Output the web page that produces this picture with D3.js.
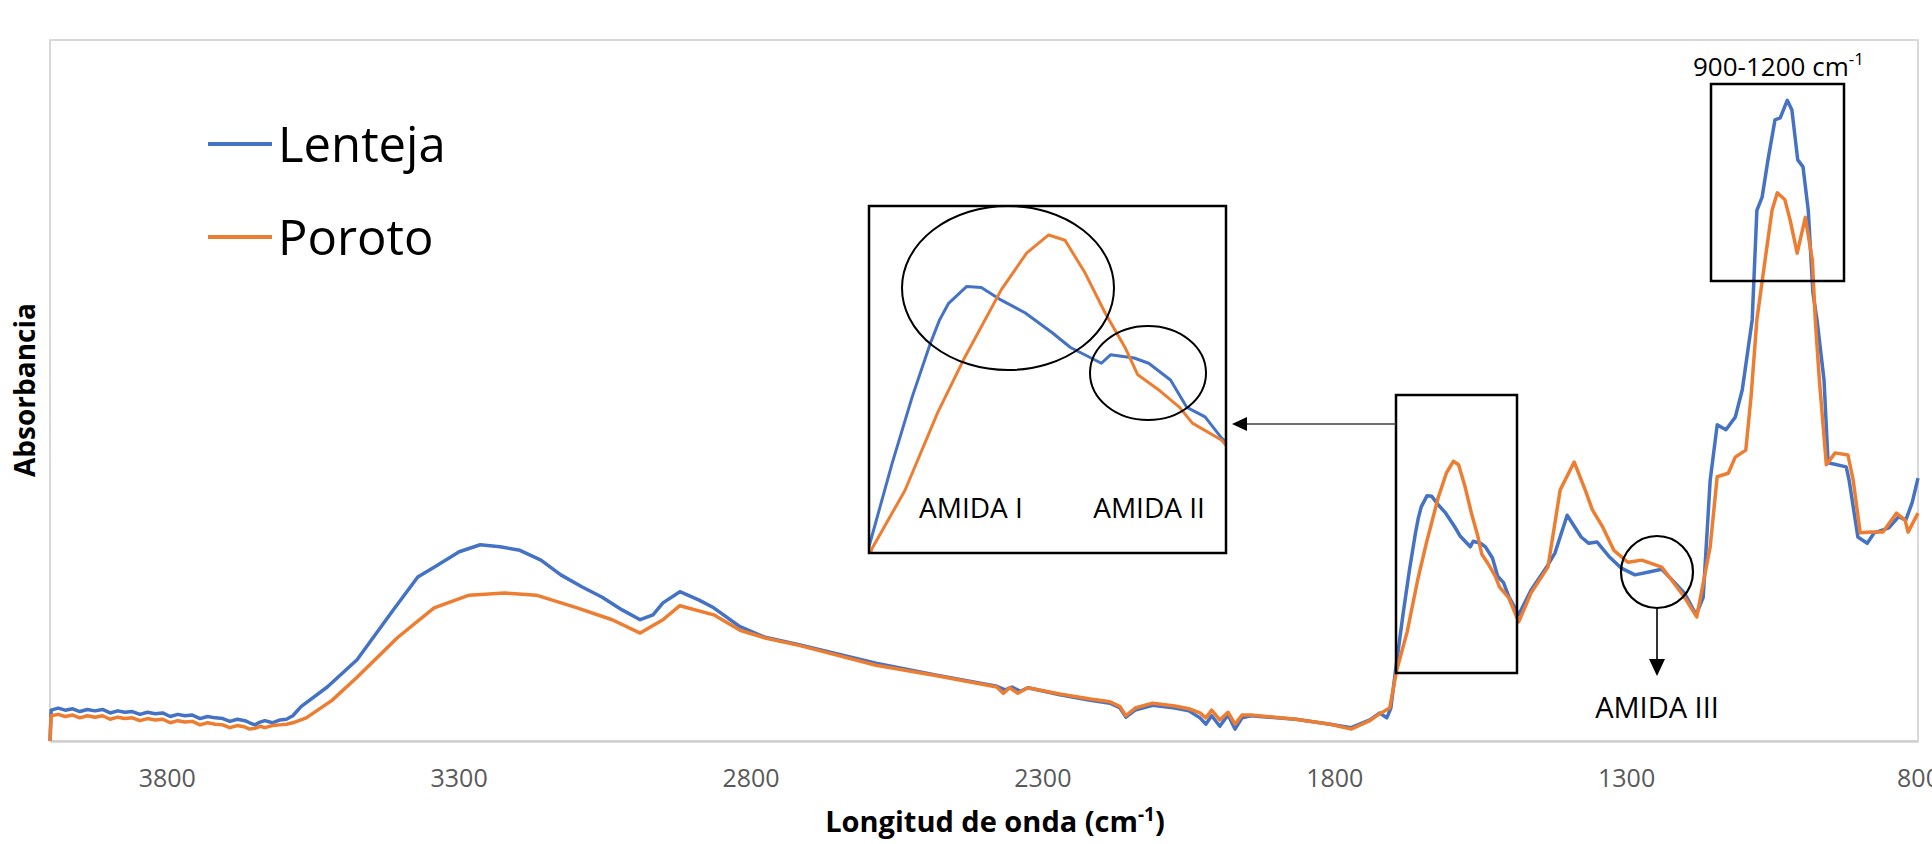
<!DOCTYPE html>
<html>
<head>
<meta charset="utf-8">
<script src="https://cdn.jsdelivr.net/npm/d3@7"></script>
<style>
  body { margin: 0; background: #fff; }
  text { font-family: "Open Sans", "Noto Sans", sans-serif; }
</style>
</head>
<body>
<div id="chart"></div>
<script>
// [longitud de onda (cm-1), absorbancia]
const lenteja = [
  [4000,0],[3998,0.044],[3986,0.047],[3974,0.044],[3961,0.046],[3949,0.042],[3936,0.045],[3923,0.043],
  [3910,0.045],[3897,0.040],[3884,0.043],[3872,0.041],[3859,0.042],[3846,0.038],[3833,0.041],[3820,0.039],
  [3807,0.040],[3794,0.035],[3781,0.038],[3769,0.036],[3756,0.037],[3743,0.032],[3730,0.035],[3717,0.033],
  [3704,0.032],[3692,0.028],[3679,0.031],[3666,0.029],[3658,0.026],[3649,0.023],[3640,0.027],[3632,0.029],
  [3619,0.026],[3606,0.030],[3595,0.031],[3584,0.036],[3570,0.049],[3525,0.077],[3474,0.116],[3412,0.187],
  [3370,0.234],[3342,0.248],[3299,0.270],[3263,0.280],[3229,0.277],[3195,0.272],[3159,0.258],[3125,0.237],
  [3089,0.220],[3054,0.205],[3020,0.187],[2989,0.173],[2967,0.180],[2950,0.197],[2921,0.213],[2888,0.201],
  [2863,0.190],[2818,0.163],[2775,0.148],[2715,0.137],[2585,0.111],[2481,0.094],[2378,0.078],[2364,0.073],
  [2352,0.077],[2338,0.071],[2325,0.076],[2270,0.066],[2218,0.058],[2184,0.054],[2167,0.047],[2157,0.034],
  [2141,0.044],[2111,0.051],[2073,0.047],[2049,0.043],[2030,0.033],[2020,0.024],[2010,0.036],[1996,0.021],
  [1982,0.037],[1970,0.017],[1958,0.033],[1943,0.036],[1866,0.031],[1807,0.024],[1771,0.019],[1739,0.030],
  [1722,0.040],[1710,0.033],[1703,0.047],[1695,0.101],[1682,0.182],[1671,0.245],[1661,0.296],[1656,0.318],
  [1651,0.334],[1641,0.350],[1633,0.349],[1622,0.337],[1609,0.325],[1594,0.306],[1584,0.292],[1567,0.277],
  [1562,0.285],[1549,0.282],[1541,0.277],[1529,0.261],[1520,0.235],[1510,0.226],[1501,0.206],[1484,0.180],
  [1463,0.215],[1437,0.247],[1422,0.268],[1401,0.322],[1377,0.291],[1364,0.282],[1350,0.284],[1328,0.262],
  [1309,0.247],[1285,0.237],[1261,0.241],[1239,0.245],[1218,0.227],[1200,0.211],[1180,0.180],[1168,0.205],
  [1156,0.372],[1144,0.451],[1129,0.444],[1113,0.462],[1101,0.501],[1084,0.601],[1076,0.757],[1067,0.776],
  [1057,0.829],[1045,0.886],[1036,0.889],[1024,0.914],[1016,0.900],[1006,0.829],[997,0.819],[988,0.757],
  [980,0.639],[973,0.601],[961,0.515],[954,0.397],[923,0.391],[918,0.372],[903,0.291],[887,0.282],
  [875,0.297],[850,0.304],[833,0.320],[821,0.315],[810,0.340],[802,0.368],[800,0.375]
]

const poroto = [
  [4000,0],[3998,0.036],[3986,0.038],[3974,0.035],[3961,0.037],[3949,0.033],[3936,0.036],[3923,0.034],
  [3910,0.036],[3897,0.031],[3884,0.034],[3872,0.032],[3859,0.033],[3846,0.029],[3833,0.032],[3820,0.030],
  [3807,0.031],[3794,0.026],[3781,0.029],[3769,0.027],[3756,0.028],[3743,0.023],[3730,0.026],[3717,0.024],
  [3704,0.023],[3692,0.019],[3679,0.022],[3666,0.020],[3658,0.017],[3649,0.018],[3640,0.021],[3632,0.019],
  [3619,0.022],[3606,0.023],[3595,0.024],[3584,0.026],[3561,0.033],[3517,0.058],[3474,0.091],[3404,0.148],
  [3342,0.190],[3282,0.208],[3221,0.211],[3167,0.208],[3097,0.190],[3037,0.173],[2989,0.154],[2950,0.173],
  [2921,0.193],[2863,0.180],[2818,0.158],[2775,0.147],[2715,0.136],[2585,0.108],[2481,0.093],[2378,0.077],
  [2367,0.068],[2356,0.076],[2342,0.068],[2325,0.076],[2270,0.067],[2218,0.060],[2184,0.056],[2167,0.049],
  [2157,0.036],[2141,0.047],[2111,0.054],[2073,0.050],[2049,0.046],[2030,0.040],[2020,0.033],[2010,0.044],
  [1996,0.030],[1982,0.041],[1970,0.024],[1958,0.037],[1943,0.037],[1866,0.031],[1807,0.024],[1771,0.017],
  [1739,0.029],[1722,0.039],[1705,0.047],[1693,0.101],[1675,0.156],[1657,0.230],[1642,0.283],[1622,0.347],
  [1608,0.382],[1596,0.399],[1587,0.394],[1576,0.363],[1565,0.325],[1554,0.292],[1547,0.266],[1535,0.251],
  [1524,0.235],[1517,0.220],[1501,0.204],[1484,0.170],[1463,0.211],[1434,0.248],[1413,0.358],[1389,0.398],
  [1370,0.358],[1358,0.330],[1340,0.305],[1321,0.272],[1297,0.255],[1273,0.258],[1239,0.248],[1218,0.225],
  [1200,0.205],[1179,0.177],[1156,0.277],[1144,0.377],[1125,0.382],[1113,0.405],[1095,0.415],[1086,0.491],
  [1076,0.601],[1062,0.686],[1050,0.757],[1041,0.782],[1028,0.772],[1019,0.743],[1007,0.696],[993,0.747],
  [981,0.686],[976,0.601],[969,0.515],[957,0.394],[942,0.411],[920,0.408],[911,0.372],[899,0.297],
  [880,0.298],[860,0.298],[837,0.325],[822,0.315],[817,0.298],[800,0.325]
]

const seriesNames = ['Lenteja', 'Poroto']
const seriesColors = ['#4472C4', '#ED7D31']
const xTicks = [3800, 3300, 2800, 2300, 1800, 1300, 800]

const width = 1932
const height = 844
const plot = { left: 50, top: 40, right: 1918, bottom: 741 }

const svg = d3.select('#chart').append('svg')
  .attr('width', width)
  .attr('height', height)

const x = d3.scaleLinear().domain([4000, 800]).range([plot.left, plot.right])
const y = d3.scaleLinear().domain([0, 1]).range([plot.bottom, plot.top])

// plot area border
svg.append('rect')
  .attr('x', plot.left).attr('y', plot.top)
  .attr('width', plot.right - plot.left).attr('height', plot.bottom - plot.top)
  .attr('fill', 'none').attr('stroke', '#d9d9d9').attr('stroke-width', 2)

// the last label (800) sits on the right edge and is cut, as in the original
svg.append('g')
  .attr('transform', `translate(0,${plot.bottom})`)
  .call(d3.axisBottom(x).tickValues(xTicks).tickSize(0).tickPadding(28).tickFormat(d3.format('d')))
  .attr('font-family', '"Open Sans", sans-serif')
  .attr('font-size', 25)
  .call(g => g.select('.domain').attr('stroke', '#cfcfcf').attr('stroke-width', 2.5))
  .call(g => g.selectAll('text').attr('fill', '#595959'))

// axis titles
const xTitle = svg.append('text')
  .attr('x', 995).attr('y', 832)
  .attr('text-anchor', 'middle')
  .attr('font-size', 29).attr('font-weight', 700)
xTitle.append('tspan').text('Longitud de onda (cm')
xTitle.append('tspan').attr('font-size', 19).attr('dy', -11).text('-1')
xTitle.append('tspan').attr('dy', 11).text(')')

svg.append('text')
  .attr('transform', 'translate(35,390) rotate(-90)')
  .attr('text-anchor', 'middle')
  .attr('font-size', 28).attr('font-weight', 700)
  .text('Absorbancia')

const line = (sx, sy) => d3.line().x(d => sx(d[0])).y(d => sy(d[1]))

const drawSeries = (g, sx, sy, w) => {
  [lenteja, poroto].forEach((data, i) => {
    g.append('path')
      .datum(data)
      .attr('fill', 'none')
      .attr('stroke', seriesColors[i])
      .attr('stroke-width', w)
      .attr('stroke-linejoin', 'round')
      .attr('d', line(sx, sy))
  })
}

drawSeries(svg.append('g'), x, y, 3.5)

// legend
seriesNames.forEach((name, i) => {
  const ly = 144 + i * 93
  svg.append('line')
    .attr('x1', 208).attr('x2', 272).attr('y1', ly).attr('y2', ly)
    .attr('stroke', seriesColors[i]).attr('stroke-width', 4)
  svg.append('text')
    .attr('x', 278).attr('y', ly + 18)
    .attr('font-size', 49)
    .attr('fill', '#000')
    .text(name)
})

// ---- annotations ----
const ann = svg.append('g').attr('fill', 'none').attr('stroke', '#000')

const arrow = (x1, y1, x2, y2, len, half, color) => {
  const a = Math.atan2(y2 - y1, x2 - x1)
  const bx = x2 - len * Math.cos(a), by = y2 - len * Math.sin(a)
  ann.append('line')
    .attr('x1', x1).attr('y1', y1).attr('x2', bx).attr('y2', by)
    .attr('stroke', color || '#000').attr('stroke-width', 1.6)
  const px = -Math.sin(a) * half, py = Math.cos(a) * half
  ann.append('path')
    .attr('d', `M${x2},${y2}L${bx + px},${by + py}L${bx - px},${by - py}Z`)
    .attr('fill', '#000').attr('stroke', 'none')
}

// box around amide I / II region
ann.append('rect').attr('x', 1396).attr('y', 395).attr('width', 121).attr('height', 278)
  .attr('stroke-width', 2.5)
arrow(1396, 424, 1232, 424, 15, 7, '#404040')

// box 900-1200
ann.append('rect').attr('x', 1711).attr('y', 84).attr('width', 133).attr('height', 197)
  .attr('stroke-width', 2.5)
const boxLabel = svg.append('text').attr('x', 1693).attr('y', 76).attr('font-size', 26)
boxLabel.append('tspan').text('900-1200 cm')
boxLabel.append('tspan').attr('font-size', 17).attr('dy', -11).text('-1')

// AMIDA III
ann.append('circle').attr('cx', 1657).attr('cy', 572).attr('r', 36).attr('stroke-width', 2.2)
arrow(1657, 608, 1657, 676, 17, 8)
svg.append('text').attr('x', 1657).attr('y', 718).attr('text-anchor', 'middle')
  .attr('font-size', 29).text('AMIDA III')

// inset: zoom of the 1700-1500 cm-1 region
const inset = { x: 869, y: 206, w: 357, h: 347 }
svg.append('rect').attr('x', inset.x).attr('y', inset.y).attr('width', inset.w).attr('height', inset.h)
  .attr('fill', '#fff')
svg.append('clipPath').attr('id', 'inset-clip')
  .append('rect').attr('x', inset.x).attr('y', inset.y).attr('width', inset.w).attr('height', inset.h)
const xi = d3.scaleLinear().domain([1694.2, 1498.5]).range([870, 1226])
const yi = d3.scaleLinear().domain([0, 0.5]).range([654.5, 128.75])
drawSeries(svg.append('g').attr('clip-path', 'url(#inset-clip)'), xi, yi, 3)

const ann2 = svg.append('g').attr('fill', 'none').attr('stroke', '#000')
ann2.append('rect').attr('x', inset.x).attr('y', inset.y).attr('width', inset.w).attr('height', inset.h)
  .attr('stroke-width', 2.5)
ann2.append('ellipse').attr('cx', 1008).attr('cy', 288).attr('rx', 106).attr('ry', 82).attr('stroke-width', 2)
ann2.append('ellipse').attr('cx', 1148).attr('cy', 373).attr('rx', 58).attr('ry', 47).attr('stroke-width', 2)
arrow(1012, 375, 973, 475, 18, 8)
arrow(1150, 420, 1150, 475, 18, 8)
svg.append('text').attr('x', 971).attr('y', 518).attr('text-anchor', 'middle')
  .attr('font-size', 28).text('AMIDA I')
svg.append('text').attr('x', 1149).attr('y', 518).attr('text-anchor', 'middle')
  .attr('font-size', 28).text('AMIDA II')
</script>
</body>
</html>
